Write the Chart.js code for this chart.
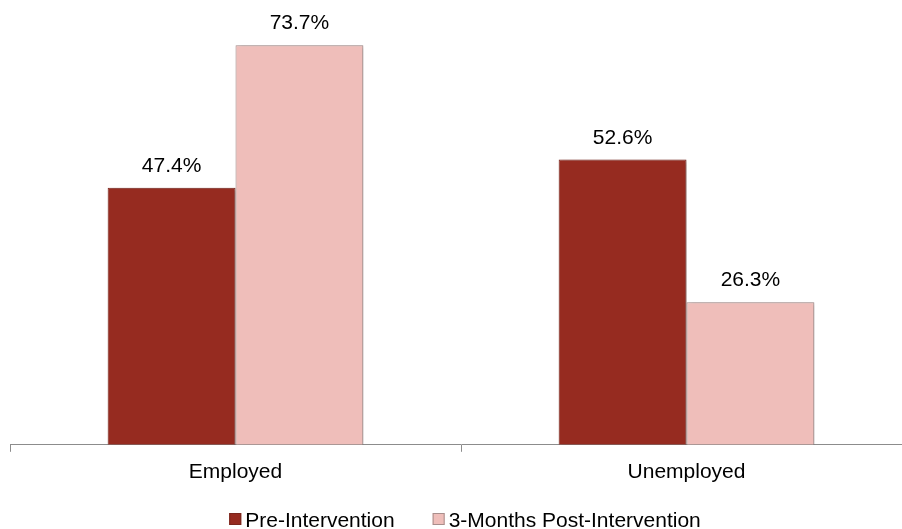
<!DOCTYPE html>
<html>
<head>
<meta charset="utf-8">
<script src="https://cdn.jsdelivr.net/npm/chart.js@4.4.1/dist/chart.umd.min.js"></script>
<style>
    html, body { margin: 0; padding: 0; background: #fff; overflow: hidden; }
    #wrap { width: 914px; height: 529px; }
</style>
</head>
<body>
<div id="wrap"><canvas id="employmentChart"></canvas></div>
<script>
const categories = ['Employed', 'Unemployed'];
const seriesNames = ['Pre-Intervention', '3-Months Post-Intervention'];
const preValues = [47.4, 52.6];
const postValues = [73.7, 26.3];

const fontFamily = '"Liberation Sans", Arial, sans-serif';
const fills = ['#962B20', '#EFBEBA'];
const borders = ['#7A261D', '#A88E8C'];

// soft shadow on bars, then value labels on top
const barDecor = {
    id: 'barDecor',
    beforeDatasetsDraw(chart) {
        const ctx = chart.ctx;
        ctx.save();
        ctx.shadowColor = 'rgba(0,0,0,0.28)';
        ctx.shadowBlur = 4;
        ctx.shadowOffsetX = 2;
        ctx.shadowOffsetY = 1;
    },
    afterDatasetsDraw(chart) {
        const ctx = chart.ctx;
        ctx.restore();
        ctx.save();
        ctx.font = '21px ' + fontFamily;
        ctx.fillStyle = '#000';
        ctx.textAlign = 'center';
        ctx.textBaseline = 'alphabetic';
        chart.data.datasets.forEach((ds, i) => {
            chart.getDatasetMeta(i).data.forEach((bar, j) => {
                ctx.fillText(ds.data[j].toFixed(1) + '%', bar.x, bar.y - 16);
            });
        });
        ctx.restore();
    }
};

// legend row under the axis labels
const bottomLegend = {
    id: 'bottomLegend',
    afterDraw(chart) {
        const ctx = chart.ctx;
        const box = 12, gap = 4, itemGap = 38;
        ctx.save();
        ctx.font = '21px ' + fontFamily;
        const widths = chart.data.datasets.map(ds => ctx.measureText(ds.label).width);
        const total = widths.reduce((s, w) => s + box + gap + w, 0) + itemGap * (widths.length - 1);
        let x = (chart.chartArea.left + chart.chartArea.right) / 2 + 4 - total / 2;
        const y = 513;
        chart.data.datasets.forEach((ds, i) => {
            ctx.fillStyle = ds.backgroundColor;
            ctx.fillRect(x, y, box, box);
            ctx.strokeStyle = ds.borderColor;
            ctx.lineWidth = 1;
            ctx.strokeRect(x + 0.5, y + 0.5, box - 1, box - 1);
            ctx.fillStyle = '#000';
            ctx.textBaseline = 'alphabetic';
            ctx.fillText(ds.label, x + box + gap, y + 14);
            x += box + gap + widths[i] + itemGap;
        });
        ctx.restore();
    }
};

const ctx = document.getElementById('employmentChart').getContext('2d');
new Chart(ctx, {
    type: 'bar',
    data: {
        labels: categories,
        datasets: [
            {
                label: seriesNames[0],
                data: preValues,
                backgroundColor: fills[0],
                borderColor: borders[0],
                borderWidth: 1
            },
            {
                label: seriesNames[1],
                data: postValues,
                backgroundColor: fills[1],
                borderColor: borders[1],
                borderWidth: 1
            }
        ]
    },
    options: {
        responsive: true,
        maintainAspectRatio: false,
        animation: false,
        layout: {
            padding: { left: 10, right: 2, top: 11, bottom: 36 }
        },
        plugins: {
            legend: { display: false },
            tooltip: { enabled: false }
        },
        datasets: {
            bar: { categoryPercentage: 0.567, barPercentage: 1.0 }
        },
        scales: {
            y: {
                display: false,
                min: 0,
                max: 80
            },
            x: {
                border: { display: true, color: '#8C8C8C', width: 1 },
                grid: {
                    drawOnChartArea: false,
                    drawTicks: true,
                    tickLength: 7,
                    color: '#8C8C8C'
                },
                ticks: {
                    color: '#000',
                    padding: 8,
                    font: { family: fontFamily, size: 21 }
                }
            }
        }
    },
    plugins: [barDecor, bottomLegend]
});
</script>
</body>
</html>
